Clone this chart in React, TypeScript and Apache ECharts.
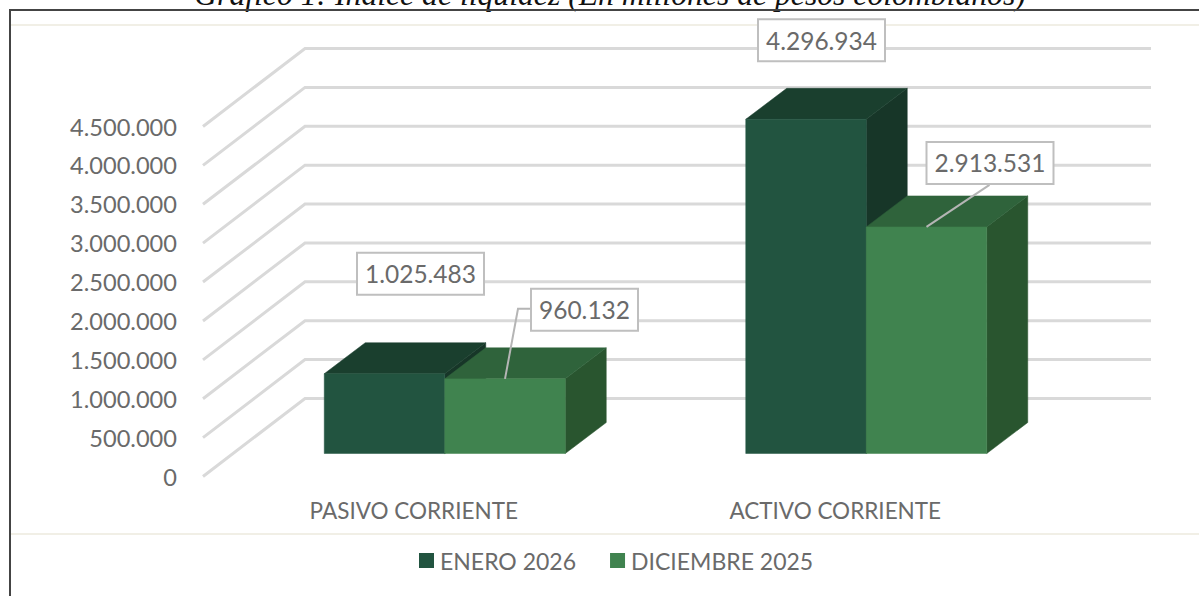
import React, { useEffect, useRef } from "react";
import * as echarts from "echarts";

const titleText = "Gráfico 1: Índice de liquidez (En millones de pesos colombianos)";
const categories = ["PASIVO CORRIENTE", "ACTIVO CORRIENTE"];
const enero2026 = [1025483, 4296934];
const diciembre2025 = [960132, 2913531];
const ticks = [0, 500000, 1000000, 1500000, 2000000, 2500000, 3000000, 3500000, 4000000, 4500000];

const FONT = "Lato, 'Open Sans', sans-serif";
const TEXT = "#6a6a6a";
const WALL_DX = 102;
const WALL_DY = 78;
const WALL_EXTRA = 3;
const BAR_DX = 31;
const BAR_DY = 23;
const BAR_W = 120.5;
const DEPTH_X = 41;
const DEPTH_Y = 31;

const fmt = (v: number) => String(v).replace(/\B(?=(\d{3})+(?!\d))/g, ".");

type LabelPos = { dx: number; dy: number; w: number; leader: number[][] };

function barSeries(
  name: string,
  values: number[],
  side: -1 | 0,
  colors: { front: string; top: string; side: string },
  labels: LabelPos[]
) {
  return {
    name,
    type: "custom",
    itemStyle: { color: colors.front },
    encode: { x: 0, y: 1 },
    data: categories.map((c, i) => [c, values[i]]),
    z: 3,
    renderItem: (params: any, api: any) => {
      const v = api.value(1);
      const base = api.coord([params.dataIndex, 0]);
      const top = api.coord([params.dataIndex, v]);
      const x0 = base[0] + BAR_DX + side * BAR_W;
      const x1 = x0 + BAR_W;
      const yB = base[1] - BAR_DY;
      const yT = top[1] - BAR_DY;
      const l = labels[params.dataIndex];
      const cx = (x0 + x1) / 2;
      const bx = cx + l.dx;
      const by = yT + l.dy;
      const poly = (points: number[][], fill: string) => ({
        type: "polygon",
        shape: { points },
        style: { fill, stroke: fill, lineWidth: 0.5 },
      });
      return {
        type: "group",
        children: [
          poly(
            [[x1, yT], [x1 + DEPTH_X, yT - DEPTH_Y], [x1 + DEPTH_X, yB - DEPTH_Y], [x1, yB]],
            colors.side
          ),
          poly(
            [[x0, yT], [x0 + DEPTH_X, yT - DEPTH_Y], [x1 + DEPTH_X, yT - DEPTH_Y], [x1, yT]],
            colors.top
          ),
          poly([[x0, yT], [x1, yT], [x1, yB], [x0, yB]], colors.front),
          ...(l.leader.length
            ? [
                {
                  type: "polyline",
                  shape: { points: [[cx, yT], ...l.leader.map((p) => [cx + p[0], yT + p[1]])] },
                  style: { fill: "none", stroke: "#b5b5b5", lineWidth: 2 },
                },
              ]
            : []),
          {
            type: "rect",
            shape: { x: bx - l.w / 2, y: by - 21, width: l.w, height: 42 },
            style: { fill: "#ffffff", stroke: "#bfbfbf", lineWidth: 2 },
          },
          {
            type: "text",
            style: {
              text: fmt(v),
              x: bx,
              y: by,
              align: "center",
              verticalAlign: "middle",
              fontFamily: FONT,
              fontSize: 24.5,
              fill: TEXT,
            },
          },
        ],
      };
    },
  };
}

export default function App() {
  const ref = useRef<HTMLDivElement>(null);
  useEffect(() => {
    document.body.style.margin = "0";
    const chart = echarts.init(ref.current!, undefined, { renderer: "svg" });
    chart.setOption({
      animation: false,
      backgroundColor: "#ffffff",
      grid: { left: 203, top: 126.5, width: 843, height: 350, containLabel: false },
      legend: {
        data: ["ENERO 2026", "DICIEMBRE 2025"],
        left: 414,
        top: 544,
        icon: "rect",
        itemWidth: 15,
        itemHeight: 15,
        itemGap: 34,
        selectedMode: false,
        textStyle: { color: TEXT, fontFamily: FONT, fontSize: 23, padding: [0, 0, 0, 1] },
      },
      xAxis: {
        type: "category",
        data: categories,
        axisLine: { show: false },
        axisTick: { show: false },
        axisLabel: { color: TEXT, fontFamily: FONT, fontSize: 22.5, margin: 22 },
      },
      yAxis: {
        type: "value",
        min: 0,
        max: 4500000,
        interval: 500000,
        axisLine: { show: false },
        axisTick: { show: false },
        splitLine: { show: false },
        axisLabel: { color: TEXT, fontFamily: FONT, fontSize: 23.6, margin: 26, formatter: (v: number) => fmt(v) },
      },
      graphic: [
        {
          type: "text",
          z: 1,
          style: {
            text: titleText,
            x: 610,
            y: 10,
            align: "center",
            verticalAlign: "bottom",
            fontFamily: "'Liberation Serif', serif",
            fontStyle: "italic",
            fontSize: 31.7,
            fill: "#111111",
          },
        },
        { type: "rect", z: 2, shape: { x: 9, y: 9, width: 1190, height: 2 }, style: { fill: "#444444" } },
        { type: "rect", z: 2, shape: { x: 9, y: 9, width: 2, height: 587 }, style: { fill: "#444444" } },
        { type: "rect", z: 0, shape: { x: 11, y: 24, width: 1188, height: 2 }, style: { fill: "#f1efe6" } },
        { type: "rect", z: 0, shape: { x: 11, y: 533, width: 1188, height: 2 }, style: { fill: "#f1efe6" } },
      ],
      series: [
        {
          name: "gridlines",
          type: "custom",
          silent: true,
          encode: { x: 0, y: 1 },
          data: ticks.map((t) => [categories[0], t]),
          z: 1,
          renderItem: (params: any, api: any) => {
            const y = api.coord([0, api.value(1)])[1];
            const cs = params.coordSys;
            return {
              type: "polyline",
              shape: {
                points: [
                  [cs.x, y],
                  [cs.x + WALL_DX, y - WALL_DY],
                  [cs.x + cs.width + WALL_DX + WALL_EXTRA, y - WALL_DY],
                ],
              },
              style: { fill: "none", stroke: "#d9d9d9", lineWidth: 3 },
            };
          },
        },
        barSeries(
          "ENERO 2026",
          enero2026,
          -1,
          { front: "#225440", top: "#1a3f2e", side: "#173628" },
          [
            { dx: 36, dy: -100, w: 127, leader: [] },
            { dx: 15.5, dy: -79, w: 127, leader: [] },
          ]
        ),
        barSeries(
          "DICIEMBRE 2025",
          diciembre2025,
          0,
          { front: "#40834f", top: "#2f633b", side: "#29552f" },
          [
            { dx: 79.5, dy: -69, w: 107, leader: [[13, -70], [26, -70]] },
            { dx: 63.5, dy: -64, w: 127, leader: [[63, -42]] },
          ]
        ),
      ],
    });
    return () => chart.dispose();
  }, []);
  return <div ref={ref} style={{ width: 1199, height: 596 }} />;
}
